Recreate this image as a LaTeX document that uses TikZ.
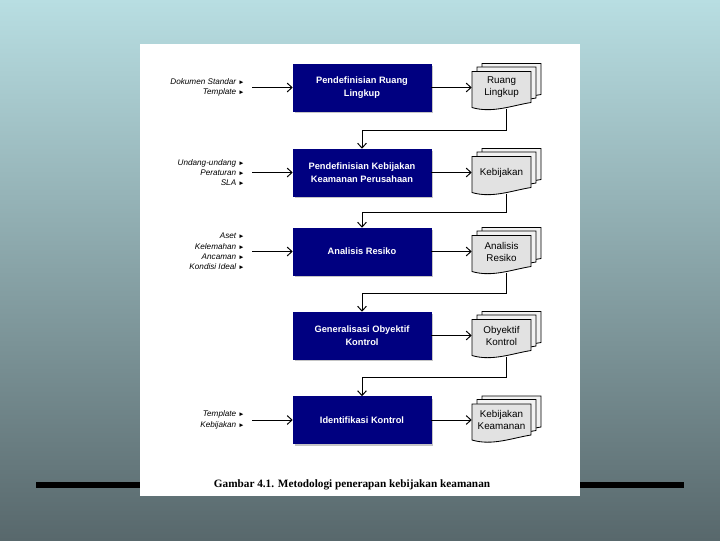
\documentclass[tikz,border=0pt]{standalone}
\usepackage{fontspec}
\setmainfont{Liberation Sans}
\newfontfamily\capfont{Liberation Serif}
\usetikzlibrary{arrows.meta,calc,positioning,shadows}
\definecolor{navyblue}{RGB}{0,0,128}
\definecolor{bgtop}{RGB}{184,222,226}
\definecolor{bgbottom}{RGB}{88,104,108}
\definecolor{pagefront}{RGB}{226,226,226}
\definecolor{pageback}{RGB}{242,242,242}
\newcommand{\tri}{~{\upshape\fontsize{4.5}{4.5}\selectfont ►}}
\newcommand{\docstack}[1]{%
  \foreach \dx/\dy/\pagecol in {10/-8/pageback,5/-4.5/pageback,0/0/pagefront}
    \draw[pagestyle,fill=\pagecol,shift={({472+\dx},{#1-16+\dy})}]
      (0,0) -- (59,0) -- (59,31) .. controls (40,34) and (20,42) .. (0,36) -- cycle;
}
\tikzset{
  procbox/.style={fill=navyblue,draw=navyblue,text=white,minimum width=3.45cm,
    minimum height=1.175cm,align=center,font=\fontsize{6.6}{9.2}\selectfont\bfseries,
    drop shadow={shadow xshift=0.05cm,shadow yshift=-0.05cm,opacity=0.45}},
  inlabel/.style={anchor=east,align=right,inner sep=0pt,
    font=\fontsize{5.8}{7.4}\selectfont\itshape},
  doclabel/.style={align=center,inner sep=0pt,minimum width=1.475cm,
    font=\fontsize{7}{8.5}\selectfont},
  pagestyle/.style={draw=black,line width=0.6pt},
  flow/.style={-{Straight Barb[length=1.2mm,width=2.2mm]},line width=0.7pt},
}

\begin{document}
\begin{tikzpicture}[x=0.025cm,y=-0.025cm]
% slide background
\shade[top color=bgtop,bottom color=bgbottom] (0,0) rectangle (720,540);
\draw[line width=3.6pt] (36,485) -- (684,485);
\fill[white] (140,44) rectangle (580,496);

% process steps
\node[procbox] (box1) at (362,87.5) {Pendefinisian Ruang\\Lingkup};
\node[procbox] (box2) at (362,172.5) {Pendefinisian Kebijakan\\Keamanan Perusahaan};
\node[procbox] (box3) at (362,251.5) {Analisis Resiko};
\node[procbox] (box4) at (362,335.5) {Generalisasi Obyektif\\Kontrol};
\node[procbox] (box5) at (362,420) {Identifikasi Kontrol};

% inputs
\node[inlabel] (in1) at (245,87.5) {Dokumen Standar\tri\\Template\tri};
\node[inlabel] (in2) at (245,172.5) {Undang-undang\tri\\Peraturan\tri\\SLA\tri};
\node[inlabel] (in3) at (245,251.5) {Aset\tri\\Kelemahan\tri\\Ancaman\tri\\Kondisi Ideal\tri};
\node[inlabel] (in5) at (245,420) {Template\tri\\Kebijakan\tri};
\foreach \i in {1,2,3,5}
  \draw[flow] ([xshift=0.175cm]in\i.east) -- (box\i.west);

% outputs
\docstack{87.5}
\node[doclabel] (doc1) at (501.5,87.5) {Ruang\\Lingkup};
\docstack{172.5}
\node[doclabel] (doc2) at (501.5,172.5) {Kebijakan};
\docstack{251.5}
\node[doclabel] (doc3) at (501.5,251.5) {Analisis\\Resiko};
\docstack{335.5}
\node[doclabel] (doc4) at (501.5,335.5) {Obyektif\\Kontrol};
\docstack{420}
\node[doclabel] (doc5) at (501.5,420) {Kebijakan\\Keamanan};
\foreach \i in {1,...,5}
  \draw[flow] (box\i.east) -- (doc\i.west);

% hand-over to the next step
\coordinate (doc1b) at (506,108.5);
\coordinate (doc2b) at (506,193.5);
\coordinate (doc3b) at (506,272.5);
\coordinate (doc4b) at (506,356.5);
\foreach \i/\j in {1/2,2/3,3/4,4/5}
  \draw[flow] (doc\i b) |- ($(box\i.south)!.5!(box\j.north)$) -- (box\j.north);

\node[font=\capfont\fontsize{8}{10}\selectfont\bfseries] (caption) at (352,485)
  {Gambar 4.1. Metodologi penerapan kebijakan keamanan};
\end{tikzpicture}
\end{document}
